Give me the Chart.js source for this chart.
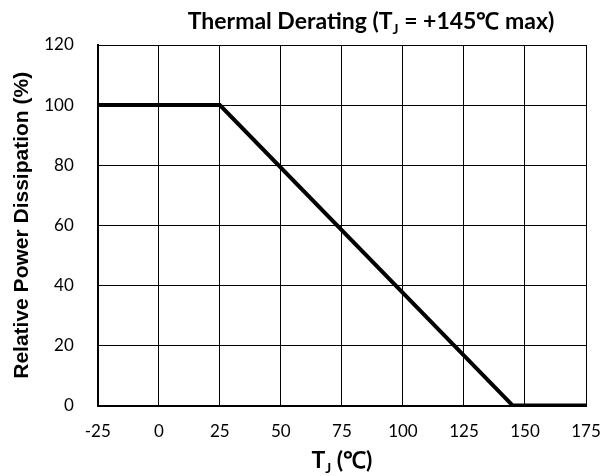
<!DOCTYPE html>
<html>
<head>
<meta charset="utf-8">
<script src="https://cdn.jsdelivr.net/npm/chart.js@4"></script>
<style>
  body { margin: 0; background: #fff; }
  #wrap { width: 600px; height: 476px; }
</style>
</head>
<body>
<div id="wrap"><canvas id="chart" width="600" height="476"></canvas></div>
<script>
const tempC = [-25, 25, 145, 175];
const powerPct = [100, 100, 0, 0];
const xTicks = [-25, 0, 25, 50, 75, 100, 125, 150, 175];
const yTicks = [0, 20, 40, 60, 80, 100, 120];

// draws text pieces, some as subscripts
function drawRich(ctx, parts, cx, y, size, family) {
  ctx.save();
  ctx.fillStyle = '#000';
  ctx.textBaseline = 'alphabetic';
  const subSize = Math.round(size * 0.62);
  let total = 0;
  parts.forEach(p => {
    ctx.font = 'bold ' + (p.sub ? subSize : size) + 'px ' + family;
    total += ctx.measureText(p.t).width;
  });
  let x = cx - total / 2;
  parts.forEach(p => {
    ctx.font = 'bold ' + (p.sub ? subSize : size) + 'px ' + family;
    ctx.fillText(p.t, x, p.sub ? y + size * 0.2 : y);
    x += ctx.measureText(p.t).width;
  });
  ctx.restore();
}

const labelsPlugin = {
  id: 'labels',
  afterDraw(chart) {
    const ctx = chart.ctx;
    const a = chart.chartArea;
    drawRich(ctx, [{ t: 'Thermal Derating (T' }, { t: 'J', sub: true }, { t: ' = +145\u2103 max)' }],
      371, 29, 23, 'Lato, "Open Sans", sans-serif');
    drawRich(ctx, [{ t: 'T' }, { t: 'J', sub: true }, { t: ' (\u2103)' }],
      (a.left + a.right) / 2, 468, 23, 'Lato, "Open Sans", sans-serif');
  }
};

new Chart(document.getElementById('chart').getContext('2d'), {
  type: 'line',
  data: {
    datasets: [{
      data: tempC.map((t, i) => ({ x: t, y: powerPct[i] })),
      borderColor: '#000',
      borderWidth: 4,
      pointRadius: 0,
      fill: false,
      tension: 0
    }]
  },
  options: {
    responsive: false,
    animation: false,
    layout: { padding: { top: 45, right: 14, bottom: 18, left: 10 } },
    plugins: {
      legend: { display: false },
      tooltip: { enabled: false }
    },
    scales: {
      x: {
        type: 'linear',
        min: -25,
        max: 175,
        afterBuildTicks: s => { s.ticks = xTicks.map(v => ({ value: v })); },
        afterFit: s => { s.paddingRight = 0; },
        grid: { color: '#000', lineWidth: 1, drawTicks: false },
        border: { color: '#000', width: 2 },
        ticks: { color: '#000', padding: 16, font: { family: 'Lato, "Open Sans", sans-serif', size: 17 } }
      },
      y: {
        min: 0,
        max: 120,
        afterBuildTicks: s => { s.ticks = yTicks.map(v => ({ value: v })); },
        afterFit: s => { s.width -= 22; },
        grid: { color: '#000', lineWidth: 1, drawTicks: false },
        border: { color: '#000', width: 2 },
        ticks: { color: '#000', padding: 24, font: { family: 'Lato, "Open Sans", sans-serif', size: 17 } },
        title: {
          display: true,
          text: 'Relative Power Dissipation (%)',
          color: '#000',
          padding: { top: 0, bottom: 7 },
          font: { family: '"Liberation Sans", Arial, sans-serif', size: 21, weight: 'bold' }
        }
      }
    }
  },
  plugins: [labelsPlugin]
});
</script>
</body>
</html>
